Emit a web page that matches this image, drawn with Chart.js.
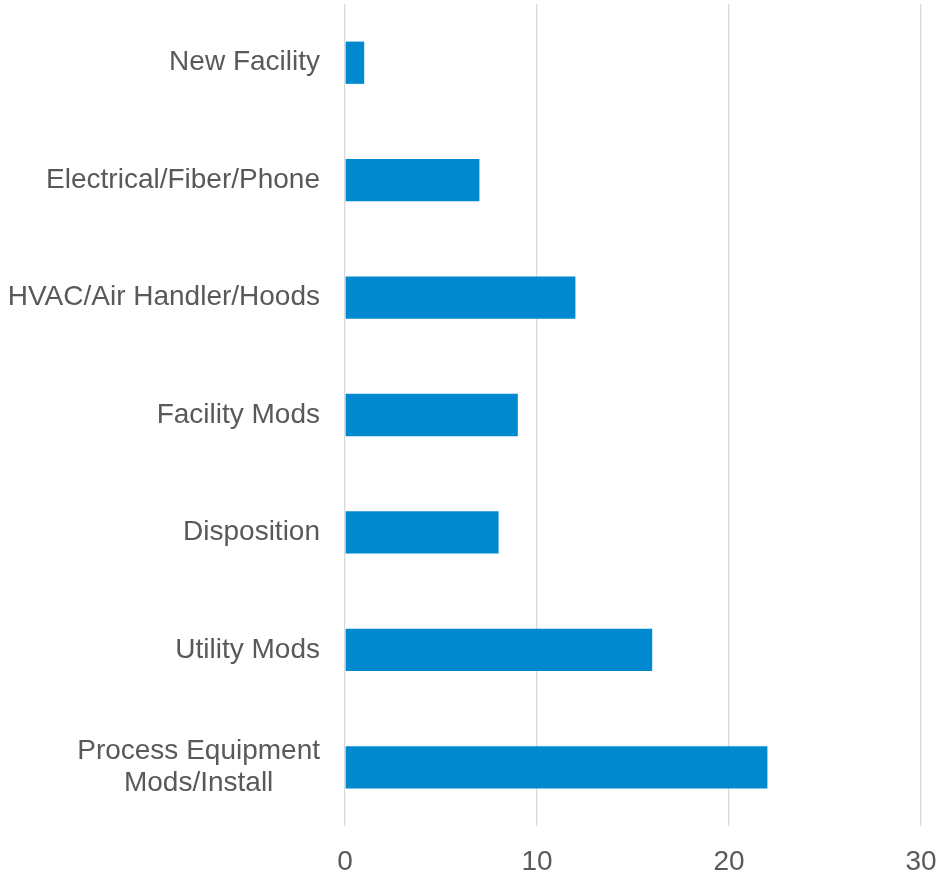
<!DOCTYPE html>
<html>
<head>
<meta charset="utf-8">
<script src="https://cdn.jsdelivr.net/npm/chart.js@4"></script>
<style>
html,body{margin:0;padding:0;background:#fff;}
#wrap{width:943px;height:879px;position:relative;}
</style>
</head>
<body>
<div id="wrap"><canvas id="c"></canvas></div>
<script>
const categories = [
  'New Facility',
  'Electrical/Fiber/Phone',
  'HVAC/Air Handler/Hoods',
  'Facility Mods',
  'Disposition',
  'Utility Mods',
  ['Process Equipment', 'Mods/Install      ']
];
const values = [1, 7, 12, 9, 8, 16, 22];
const xTicks = [0, 10, 20, 30];

const labelFont = { family: "'Liberation Sans', Arial, sans-serif", size: 28 };

new Chart(document.getElementById('c'), {
  type: 'bar',
  data: {
    labels: categories,
    datasets: [{
      data: values,
      backgroundColor: '#0089CF',
      borderWidth: 0,
      barPercentage: 1,
      categoryPercentage: 0.36
    }]
  },
  options: {
    indexAxis: 'y',
    responsive: true,
    maintainAspectRatio: false,
    animation: false,
    layout: { padding: { top: 4, right: 22, left: 0, bottom: 0 } },
    plugins: { legend: { display: false }, tooltip: { enabled: false } },
    scales: {
      x: {
        min: xTicks[0],
        max: xTicks[xTicks.length - 1],
        afterBuildTicks: (s) => { s.ticks = xTicks.map(v => ({ value: v })); },
        afterFit: (s) => { s.paddingLeft = 0; s.paddingRight = 0; s.height = 53; },
        grid: { color: '#D9D9D9', lineWidth: 1.3, drawTicks: false },
        border: { display: false },
        ticks: { color: '#595959', font: labelFont, padding: 19, maxRotation: 0 }
      },
      y: {
        afterFit: (s) => { s.width = 345; s.paddingTop = 0; s.paddingBottom = 0; },
        grid: { display: false, drawTicks: false },
        border: { display: false },
        ticks: { color: '#595959', font: { ...labelFont, lineHeight: 1.15 }, padding: 25 }
      }
    }
  }
});
</script>
</body>
</html>
